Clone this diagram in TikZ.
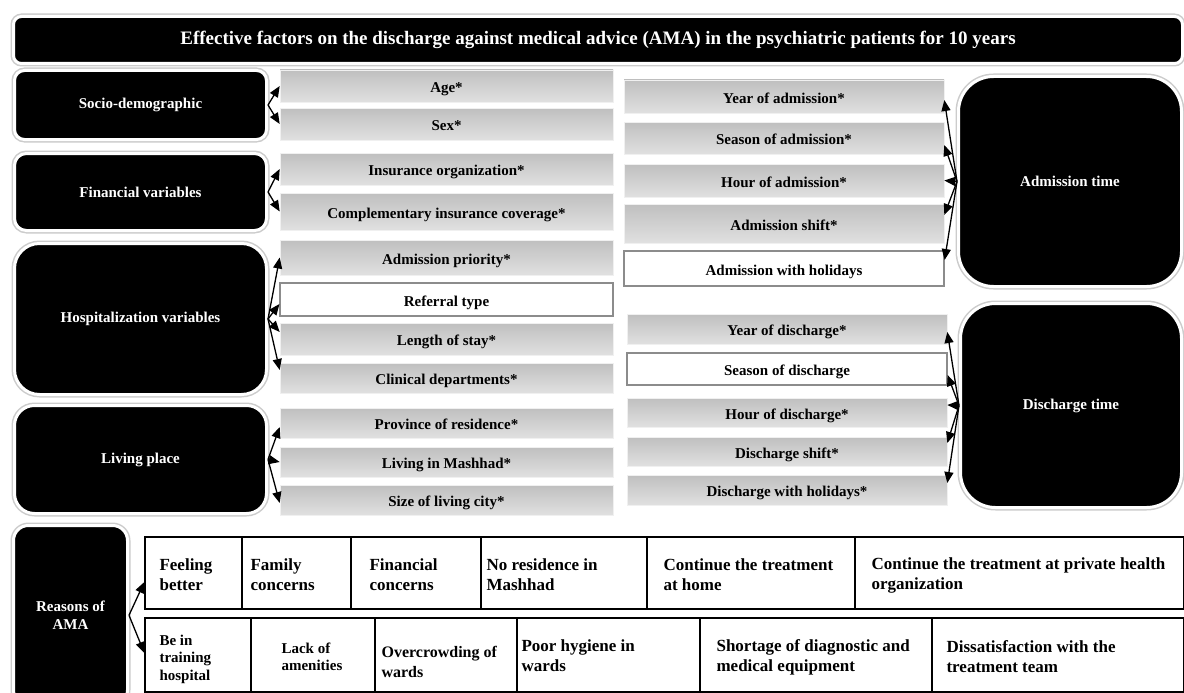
\documentclass[tikz,border=0pt]{standalone}
\usepackage{fontspec}
\setmainfont{Liberation Serif}
\usetikzlibrary{arrows.meta}
\begin{document}
\begin{tikzpicture}[x=1pt,y=-1pt,
  blk/.style={fill=black, draw=white, line width=3pt, text=white, align=center, inner sep=0pt,
    font=\bfseries\fontsize{15}{18}\selectfont, preaction={draw=black!20, line width=6pt}},
  gbox/.style={top color=black!25, bottom color=black!12, draw=black!6, line width=0.6pt, inner sep=0pt,
    font=\bfseries\fontsize{15}{18}\selectfont, text=black, text height=13pt, text depth=0pt},
  wbox/.style={fill=white, draw=black!45, line width=1.2pt, inner sep=0pt,
    font=\bfseries\fontsize{15}{18}\selectfont, text=black, text height=13pt, text depth=0pt},
  cell/.style={draw=black, line width=1.3pt, inner sep=0pt},
  bigt/.style={font=\bfseries\fontsize{17}{20}\selectfont, align=left, inner sep=0pt, anchor=west},
  smallt/.style={font=\bfseries\fontsize{15}{17.5}\selectfont, align=left, inner sep=0pt, anchor=west},
  midt/.style={font=\bfseries\fontsize{16}{20}\selectfont, align=left, inner sep=0pt, anchor=west},
  arr/.style={-{Triangle[length=11pt,width=9pt]}, line width=1.3pt}
]
\clip (0,0) rectangle (1184,693);
\fill[white] (0,0) rectangle (1184,693);

% title
\node[blk, rounded corners=8pt, minimum width=1169pt, minimum height=47pt,
  font=\bfseries\fontsize{19}{22}\selectfont] (title) at (598,40)
  {Effective factors on the discharge against medical advice (AMA) in the psychiatric patients for 10 years};

% left category boxes
\node[blk, rounded corners=10pt, minimum width=252pt, minimum height=69pt] (socio) at (140.5,105) {Socio-demographic};
\node[blk, rounded corners=12pt, minimum width=252pt, minimum height=77pt] (fin) at (140.5,192) {Financial variables};
\node[blk, rounded corners=25pt, minimum width=252pt, minimum height=151pt] (hosp) at (140.5,319) {Hospitalization variables};
\node[blk, rounded corners=20pt, minimum width=252pt, minimum height=108pt] (living) at (140.5,459.5) {Living place};
\node[blk, rounded corners=15pt, minimum width=114pt, minimum height=179.5pt] (reasons) at (70.5,615.25) {Reasons of\\AMA};

% right category boxes
\node[blk, rounded corners=35pt, minimum width=223pt, minimum height=210pt] (admt) at (1070,181.5) {Admission time};
\node[blk, rounded corners=35pt, minimum width=221pt, minimum height=204pt] (dist) at (1071,405.5) {Discharge time};

% left variable boxes
\node[gbox, minimum width=333pt, minimum height=32pt] (age) at (446.5,86) {Age*};
\node[gbox, minimum width=333pt, minimum height=32pt] (sex) at (446.5,124) {Sex*};
\node[gbox, minimum width=333pt, minimum height=32pt] (ins) at (446.5,169) {Insurance organization*};
\node[gbox, minimum width=333pt, minimum height=37pt] (comp) at (446.5,211.5) {Complementary insurance coverage*};
\node[gbox, minimum width=333pt, minimum height=35pt] (prio) at (446.5,257.5) {Admission priority*};
\node[wbox, minimum width=333pt, minimum height=33pt] (ref) at (446.5,299.5) {Referral type};
\node[gbox, minimum width=333pt, minimum height=32pt] (len) at (446.5,339) {Length of stay*};
\node[gbox, minimum width=333pt, minimum height=30pt] (clin) at (446.5,378) {Clinical departments*};
\node[gbox, minimum width=333pt, minimum height=30pt] (prov) at (446.5,423) {Province of residence*};
\node[gbox, minimum width=333pt, minimum height=30pt] (mash) at (446.5,462) {Living in Mashhad*};
\node[gbox, minimum width=333pt, minimum height=30pt] (size) at (446.5,500) {Size of living city*};

% right variable boxes: admission
\node[gbox, minimum width=320pt, minimum height=33pt] (yadm) at (784,96.5) {Year of admission*};
\node[gbox, minimum width=320pt, minimum height=32pt] (sadm) at (784,138) {Season of admission*};
\node[gbox, minimum width=320pt, minimum height=33pt] (hadm) at (784,180.5) {Hour of admission*};
\node[gbox, minimum width=320pt, minimum height=39pt] (shadm) at (784,223.5) {Admission shift*};
\node[wbox, minimum width=320pt, minimum height=35pt] (holadm) at (784,268.5) {Admission with holidays};

% right variable boxes: discharge
\node[gbox, minimum width=320pt, minimum height=30pt] (ydis) at (787,329) {Year of discharge*};
\node[wbox, minimum width=320pt, minimum height=32pt] (sdis) at (787,369) {Season of discharge};
\node[gbox, minimum width=320pt, minimum height=29pt] (hdis) at (787,412.5) {Hour of discharge*};
\node[gbox, minimum width=320pt, minimum height=29pt] (shdis) at (787,451.5) {Discharge shift*};
\node[gbox, minimum width=320pt, minimum height=30pt] (holdis) at (787,490) {Discharge with holidays*};

% left connectors
\draw[arr] (socio.east) -- (age.west);
\draw[arr] (socio.east) -- (sex.west);
\draw[arr] (fin.east) -- (ins.west);
\draw[arr] (fin.east) -- (comp.west);
\draw[arr] (hosp.east) -- (prio.west);
\draw[arr] (hosp.east) -- ([yshift=-4.5pt]ref.west);
\draw[arr] (hosp.east) -- ([yshift=7pt]len.west);
\draw[arr] (hosp.east) -- ([yshift=8pt]clin.west);
\draw[arr] (living.east) -- ([yshift=-4pt]prov.west);
\draw[arr] (living.east) -- (mash.west);
\draw[arr] (living.east) -- ([yshift=-3pt]size.west);

% right connectors
\draw[arr] (admt.west) -- ([yshift=-3.5pt]yadm.east);
\draw[arr] (admt.west) -- ([yshift=-7pt]sadm.east);
\draw[arr] (admt.west) -- (hadm.east);
\draw[arr] (admt.west) -- ([yshift=8.5pt]shadm.east);
\draw[arr] (admt.west) -- ([yshift=8.5pt]holadm.east);
\draw[arr] (dist.west) -- ([yshift=-3pt]ydis.east);
\draw[arr] (dist.west) -- ([yshift=-6pt]sdis.east);
\draw[arr] (dist.west) -- ([yshift=7.5pt]hdis.east);
\draw[arr] (dist.west) -- ([yshift=8.5pt]shdis.east);
\draw[arr] (dist.west) -- ([yshift=7pt]holdis.east);

% reasons table, row 1
\node[cell, minimum width=97pt, minimum height=72pt] (c11) at (193.5,573) {};
\node[cell, minimum width=109pt, minimum height=72pt] (c12) at (296.5,573) {};
\node[cell, minimum width=130pt, minimum height=72pt] (c13) at (416,573) {};
\node[cell, minimum width=166pt, minimum height=72pt] (c14) at (564,573) {};
\node[cell, minimum width=208pt, minimum height=72pt] (c15) at (751,573) {};
\node[cell, minimum width=329pt, minimum height=72pt] (c16) at (1019.5,573) {};
\node[bigt] (t11) at ([xshift=15pt,yshift=-2pt]c11.west) {Feeling\\better};
\node[bigt] (t12) at ([xshift=9pt,yshift=-2pt]c12.west) {Family\\concerns};
\node[bigt] (t13) at ([xshift=19pt,yshift=-2pt]c13.west) {Financial\\concerns};
\node[bigt] (t14) at ([xshift=6pt,yshift=-2pt]c14.west) {No residence in\\Mashhad};
\node[bigt] (t15) at ([xshift=17pt,yshift=-2pt]c15.west) {Continue the treatment\\at home};
\node[bigt] (t16) at ([xshift=17pt,yshift=-2pt]c16.west) {Continue the treatment at private health\\organization};

% reasons table, row 2
\node[cell, minimum width=106pt, minimum height=74pt] (c21) at (198,655) {};
\node[cell, minimum width=124pt, minimum height=74pt] (c22) at (313,655) {};
\node[cell, minimum width=142pt, minimum height=74pt] (c23) at (446,655) {};
\node[cell, minimum width=183pt, minimum height=74pt] (c24) at (608.5,655) {};
\node[cell, minimum width=232pt, minimum height=74pt] (c25) at (816,655) {};
\node[cell, minimum width=252pt, minimum height=74pt] (c26) at (1058,655) {};
\node[smallt] (t21) at ([xshift=15pt,yshift=-4pt]c21.west) {Be in\\training\\hospital};
\node[smallt] (t22) at ([xshift=31pt,yshift=-2pt]c22.west) {Lack of\\amenities};
\node[midt] (t23) at ([xshift=7pt,yshift=-7pt]c23.west) {Overcrowding of\\wards};
\node[bigt] (t24) at ([xshift=5pt,yshift=-1pt]c24.west) {Poor hygiene in\\wards};
\node[bigt] (t25) at ([xshift=17pt,yshift=-2pt]c25.west) {Shortage of diagnostic and\\medical equipment};
\node[bigt] (t26) at ([xshift=15pt,yshift=-2pt]c26.west) {Dissatisfaction with the\\treatment team};

% reasons connectors
\draw[arr] (reasons.east) -- ([yshift=-9pt]c11.west);
\draw[arr] (reasons.east) -- ([yshift=2pt]c21.west);
\end{tikzpicture}
\end{document}
